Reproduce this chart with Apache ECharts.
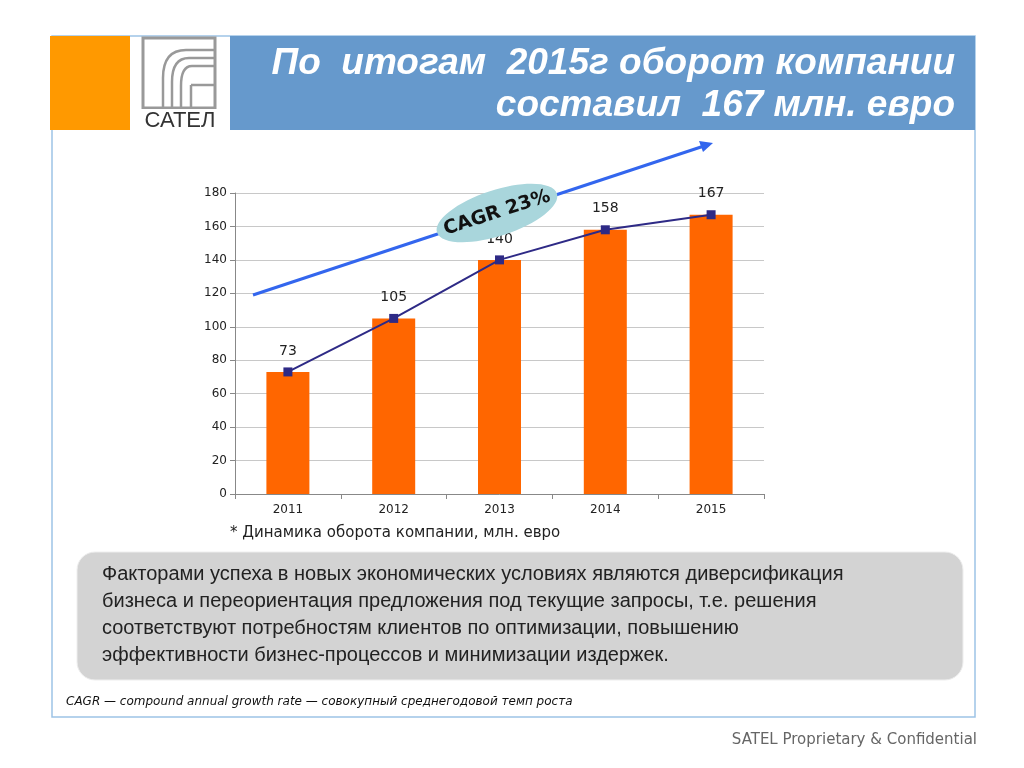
<!DOCTYPE html>
<html><head><meta charset="utf-8">
<script src="https://cdn.jsdelivr.net/npm/echarts@6/dist/echarts.min.js"></script>
<style>html,body{margin:0;padding:0;background:#fff}#c{width:1024px;height:768px}</style>
</head><body><div id="c"></div>
<script>
const years = ['2011','2012','2013','2014','2015'];
const turnover = [73,105,140,158,167];
const yTicks = [0,20,40,60,80,100,120,140,160,180];

const chart = echarts.init(document.getElementById('c'));
const lg = {stroke:'#999',lineWidth:2.5,fill:'none'};
function curve(x, yh, yStart, xEnd){
  return [
    {type:'line',shape:{x1:x,y1:108,x2:x,y2:yStart},style:lg},
    {type:'bezierCurve',shape:{x1:x,y1:yStart,x2:xEnd,y2:yh,cpx1:x,cpy1:yh},style:lg},
    {type:'line',shape:{x1:xEnd,y1:yh,x2:215,y2:yh},style:lg}
  ];
}
chart.setOption({
  animation:false,
  grid:{left:235,right:260,top:193,bottom:274},
  xAxis:{type:'category',data:years,
    axisLine:{lineStyle:{color:'#888'}},axisTick:{show:true,lineStyle:{color:'#888'}},
    axisLabel:{color:'#222',fontFamily:'DejaVu Sans',fontSize:12,margin:10}},
  yAxis:{type:'value',min:yTicks[0],max:yTicks[yTicks.length-1],interval:20,
    axisLine:{show:true,lineStyle:{color:'#888'}},axisTick:{show:true,lineStyle:{color:'#888'}},
    splitLine:{lineStyle:{color:'#c8c8c8'}},
    axisLabel:{color:'#222',fontFamily:'DejaVu Sans',fontSize:12}},
  series:[
    {type:'bar',data:turnover,barWidth:43,itemStyle:{color:'#FF6600'},
     label:{show:true,position:'top',distance:14,color:'#222',fontFamily:'DejaVu Sans',fontSize:14}},
    {type:'line',data:turnover,symbol:'rect',symbolSize:9,
     lineStyle:{color:'#2E2A86',width:2},itemStyle:{color:'#2E2A86'}}
  ],
  graphic:[
    {type:'rect',shape:{x:52,y:36,width:923,height:681},style:{fill:'none',stroke:'#9DC3E6',lineWidth:1.5},z:-1},
    {type:'rect',shape:{x:50,y:36,width:80,height:94},style:{fill:'#FF9900'}},
    {type:'rect',shape:{x:230,y:36,width:745,height:94},style:{fill:'#6699CC'}},
    {type:'text',style:{x:955,y:64,text:'По  итогам  2015г оборот компании',align:'right',verticalAlign:'middle',fill:'#fff',font:'italic bold 37px "Liberation Sans"'}},
    {type:'text',style:{x:955,y:106,text:'составил  167 млн. евро',align:'right',verticalAlign:'middle',fill:'#fff',font:'italic bold 37px "Liberation Sans"'}},
    {type:'group',children:[
      {type:'rect',shape:{x:143,y:38,width:72,height:70},style:{fill:'none',stroke:'#999',lineWidth:3}},
      ...curve(163,50,78,186),
      ...curve(172,58,82,189),
      ...curve(181,66,86,192),
      {type:'line',shape:{x1:191,y1:85,x2:191,y2:108},style:lg},
      {type:'line',shape:{x1:191,y1:85,x2:215,y2:85},style:lg},
      {type:'rect',shape:{x:140,y:109,width:80,height:22},style:{fill:'#fff'}},
      {type:'text',style:{x:180,y:121,text:'САТЕЛ',align:'center',verticalAlign:'middle',fill:'#333',font:'22px "Liberation Sans"'}}
    ]},
    {type:'line',shape:{x1:253,y1:295,x2:704,y2:146},style:{stroke:'#3366EE',lineWidth:3},z:5},
    {type:'polygon',shape:{points:[[713,143],[699,141],[703,152]]},style:{fill:'#3366EE'},z:5},
    {type:'group',x:497,y:213,rotation:18*Math.PI/180,z:6,children:[
      {type:'ellipse',shape:{cx:0,cy:0,rx:63,ry:23},style:{fill:'#A9D6DC'},z:6},
      {type:'text',style:{x:0,y:0,text:'CAGR 23%',align:'center',verticalAlign:'middle',fill:'#111',font:'bold 19px "DejaVu Sans"'},z:7}
    ]},
    {type:'text',style:{x:230,y:533,text:'* Динамика оборота компании, млн. евро',verticalAlign:'middle',fill:'#222',font:'15px "DejaVu Sans"'}},
    {type:'rect',shape:{x:77,y:552,width:886,height:128,r:18},style:{fill:'#D3D3D3',stroke:'#eee',lineWidth:1},z:-1},
    {type:'text',style:{x:102,y:561,text:'Факторами успеха в новых экономических условиях являются диверсификация\nбизнеса и переориентация предложения под текущие запросы, т.е. решения\nсоответствуют потребностям клиентов по оптимизации, повышению\nэффективности бизнес-процессов и минимизации издержек.',verticalAlign:'top',lineHeight:27,fill:'#222',font:'20px "Liberation Sans"'}},
    {type:'text',style:{x:66,y:702,text:'CAGR — compound annual growth rate — совокупный среднегодовой темп роста',verticalAlign:'middle',fill:'#111',font:'italic 12px "DejaVu Sans"'}},
    {type:'text',style:{x:977,y:740,text:'SATEL Proprietary & Confidential',align:'right',verticalAlign:'middle',fill:'#666',font:'15px "DejaVu Sans"'}}
  ]
});
</script></body></html>
